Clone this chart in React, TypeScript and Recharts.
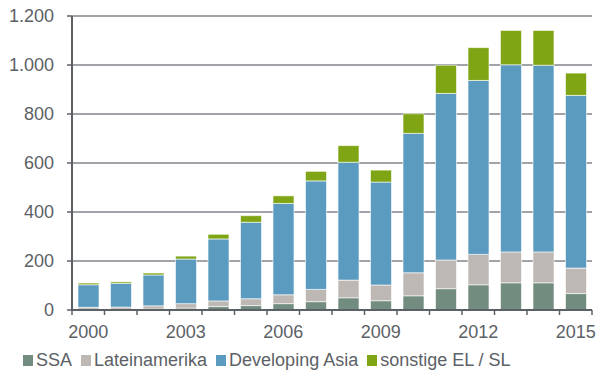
import { Bar, BarChart, CartesianGrid, Legend, XAxis, YAxis } from "recharts";

const years = ["2000", "2001", "2002", "2003", "2004", "2005", "2006", "2007", "2008", "2009", "2010", "2011", "2012", "2013", "2014", "2015"];
const ssa = [3, 3, 4, 8, 14, 18, 26, 34, 50, 38, 58, 87, 103, 111, 111, 67];
const lateinamerika = [8, 9, 13, 18, 23, 28, 36, 50, 72, 64, 94, 117, 124, 126, 126, 104];
const developingAsia = [92, 97, 126, 182, 253, 312, 373, 443, 481, 420, 569, 680, 710, 764, 762, 705];
const sonstige = [7, 6, 8, 12, 19, 27, 31, 39, 68, 49, 80, 115, 134, 140, 142, 91];
const yTicks = [0, 200, 400, 600, 800, 1000, 1200];
const labelYears = ["2000", "2003", "2006", "2009", "2012", "2015"];

const series = [
  { key: "ssa", name: "SSA", color: "#728c7f" },
  { key: "lat", name: "Lateinamerika", color: "#bdb8b4" },
  { key: "asia", name: "Developing Asia", color: "#5b9bc0" },
  { key: "other", name: "sonstige EL / SL", color: "#7fa515" },
];

const data = years.map((y, i) => ({
  year: y,
  ssa: ssa[i],
  lat: lateinamerika[i],
  asia: developingAsia[i],
  other: sonstige[i],
}));

const W = 596;
const H = 371;
const M = { top: 16, right: 4, left: 8, bottom: 0 };
const Y_W = 64;
const band = (W - M.left - M.right - Y_W) / years.length;
const axisColor = "#5c6166";
const font = "'Liberation Sans', Arial, sans-serif";

function fmt(v: number) {
  return String(v).replace(/\B(?=(\d{3})+(?!\d))/g, ".");
}

function XTick(props: any) {
  const { x, y, payload, index } = props;
  const last = index === years.length - 1;
  return (
    <g>
      <line x1={x - band / 2} y1={y} x2={x - band / 2} y2={y + 5} stroke={axisColor} strokeWidth={1.5} />
      {last && <line x1={x + band / 2} y1={y} x2={x + band / 2} y2={y + 5} stroke={axisColor} strokeWidth={1.5} />}
      {labelYears.includes(payload.value) && (
        <text x={x} y={y + 28} textAnchor="middle" fill={axisColor} fontSize={18} fontFamily={font}>
          {payload.value}
        </text>
      )}
    </g>
  );
}

function LegendContent() {
  return (
    <div style={{ paddingLeft: 15, paddingTop: 11, fontFamily: font, fontSize: 18, lineHeight: "18px", color: axisColor, whiteSpace: "nowrap" }}>
      {series.map((s) => (
        <span key={s.key} style={{ marginRight: 9 }}>
          <span style={{ width: 10, height: 11, background: s.color, display: "inline-block", marginRight: 3, verticalAlign: "baseline" }} />
          {s.name}
        </span>
      ))}
    </div>
  );
}

export default function App() {
  return (
    <div style={{ position: "absolute", left: 0, top: 0, background: "#fff" }}>
      <BarChart width={W} height={H} data={data} margin={M} barSize={21}>
        <CartesianGrid vertical={false} stroke="#80858a" strokeWidth={1.5} />
        <XAxis
          dataKey="year"
          interval={0}
          tickLine={false}
          tickSize={0}
          tickMargin={0}
          tick={<XTick />}
          height={30}
          stroke={axisColor}
          strokeWidth={2}
        />
        <YAxis
          width={Y_W}
          domain={[0, 1200]}
          ticks={yTicks}
          tickFormatter={fmt}
          tickSize={5}
          tickMargin={13}
          tickLine={{ stroke: axisColor, strokeWidth: 1.5 }}
          stroke={axisColor}
          strokeWidth={2}
          tick={{ fill: axisColor, fontSize: 18, fontFamily: font }}
        />
        <Legend verticalAlign="bottom" height={31} content={<LegendContent />} />
        {series.map((s) => (
          <Bar
            key={s.key}
            dataKey={s.key}
            name={s.name}
            stackId="a"
            fill={s.color}
            stroke="rgba(255,255,255,0.6)"
            strokeWidth={1}
            isAnimationActive={false}
          />
        ))}
      </BarChart>
    </div>
  );
}
